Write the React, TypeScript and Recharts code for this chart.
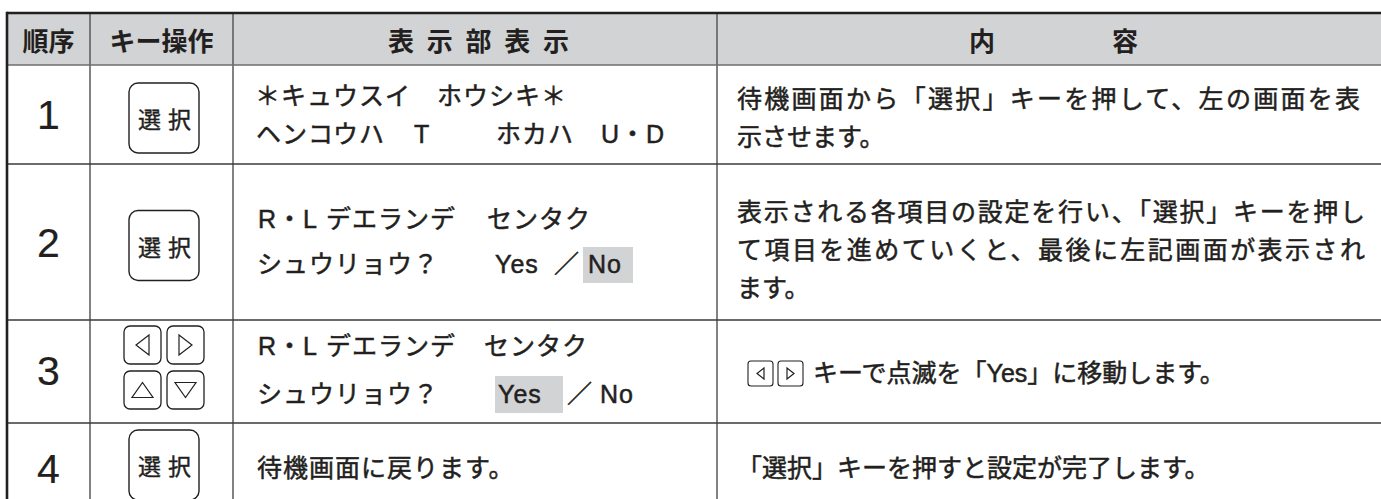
import {
  ComposedChart,
  XAxis,
  YAxis,
  Scatter,
  ReferenceArea,
  ReferenceLine,
} from "recharts";

// table content
const headerLabels = ["順序", "キー操作", "表示部表示", "内容"];
const stepNumbers = ["1", "2", "3", "4"];
const keyKinds = ["select", "select", "arrows", "select"];
const selectKeyLabel = "選 択";
const arrowGlyphs = ["left", "right", "up", "down"];

const displayLines: string[][][] = [
  [["＊キュウスイ　ホウシキ＊"], ["ヘンコウハ", "T", "ホカハ", "U・D"]],
  [["R・L", "デエランデ", "センタク"], ["シュウリョウ？", "Yes", "／", "No"]],
  [["R・L", "デエランデ", "センタク"], ["シュウリョウ？", "Yes", "／", "No"]],
  [["待機画面に戻ります。"]],
];

const descriptionLines: string[][] = [
  ["待機画面から「選択」キーを押して、左の画面を表", "示させます。"],
  [
    "表示される各項目の設定を行い、「選択」キーを押し",
    "て項目を進めていくと、最後に左記画面が表示され",
    "ます。",
  ],
  ["キーで点滅を「Yes」に移動します。"],
  ["「選択」キーを押すと設定が完了します。"],
];

// which choice is blinking on the display, per step
const blinkingChoice = ["", "No", "Yes", ""];

// layout
const W = 1381;
const H = 499;
const COL = [7, 90, 233, 717, 1381];
const ROW = [13, 65, 164, 320, 423, 499];
const INK = "#231f20";
const GRAY = "#d1d3d4";
const FONT = "'Liberation Sans', 'Noto Sans CJK JP', sans-serif";
const CJK = "'Noto Sans CJK JP', sans-serif";

const headerPos = [
  { x: 48.5, anchor: "middle" },
  { x: 161.5, anchor: "middle" },
  { x: 388, anchor: "start", length: 181 },
  { x: 969, anchor: "start", length: 169 },
];
const stepY = [115, 243, 371, 469];
const keyY = [118, 245.5, 367.5, 465];
const displayX = [
  [[255], [256, 414, 496, 601]],
  [[258, 326, 487], [257, 495, 554, 588]],
  [[258, 326, 484], [257, 498, 567, 600]],
  [[257]],
];
const displayY = [[96, 134], [219, 264], [346, 394], [468]];
const descX = [737, 737, 813, 737];
const descY = [[99, 137], [212, 250, 288], [373], [468]];
const descLength: (number | null)[][] = [[623, null], [628, 628, null], [null], [null]];
const blinkBox: Record<string, number[]> = {
  No: [583, 633, 247, 283],
  Yes: [495, 563, 376, 413],
};

type Cell = {
  x: number;
  y: number;
  text: string;
  size: number;
  weight: number;
  anchor: string;
  family: string;
  thicken: number;
  length?: number | null;
  spacing?: number;
};

const cells: Cell[] = [];
headerLabels.forEach((t, i) =>
  cells.push({
    x: headerPos[i].x,
    y: 39,
    text: t,
    size: 26,
    weight: 700,
    anchor: headerPos[i].anchor,
    family: CJK,
    thicken: 0,
    length: headerPos[i].length,
  })
);
stepNumbers.forEach((t, i) =>
  cells.push({ x: 48.5, y: stepY[i], text: t, size: 41, weight: 400, anchor: "middle", family: FONT, thicken: 0.2 })
);
displayLines.forEach((lines, r) =>
  lines.forEach((pieces, l) =>
    pieces.forEach((t, p) =>
      cells.push({
        x: displayX[r][l][p],
        y: displayY[r][l],
        text: t,
        size: 25,
        weight: 400,
        anchor: "start",
        family: FONT,
        thicken: 0.5,
        spacing: 1,
      })
    )
  )
);
descriptionLines.forEach((lines, r) =>
  lines.forEach((t, l) =>
    cells.push({
      x: descX[r],
      y: descY[r][l],
      text: t,
      size: 25,
      weight: 400,
      anchor: "start",
      family: FONT,
      thicken: 0.5,
      length: descLength[r][l],
    })
  )
);

const keys = keyKinds.map((kind, i) => ({ x: 164, y: keyY[i], kind }));
const inlineKeys = [{ x: 775.5, y: 373.5, kind: "inline" }];

const tri = (dir: string, cx: number, cy: number, w: number, h: number) => {
  let pts = "";
  if (dir === "left") pts = `${cx + w / 2},${cy - h / 2} ${cx + w / 2},${cy + h / 2} ${cx - w / 2},${cy}`;
  if (dir === "right") pts = `${cx - w / 2},${cy - h / 2} ${cx - w / 2},${cy + h / 2} ${cx + w / 2},${cy}`;
  if (dir === "up") pts = `${cx - w / 2},${cy + h / 2} ${cx + w / 2},${cy + h / 2} ${cx},${cy - h / 2}`;
  if (dir === "down") pts = `${cx - w / 2},${cy - h / 2} ${cx + w / 2},${cy - h / 2} ${cx},${cy + h / 2}`;
  return <polygon points={pts} fill="none" stroke={INK} strokeWidth={1.2} strokeLinejoin="miter" />;
};

const TextMark = (props: any) => {
  const { cx, cy, payload } = props;
  return (
    <text
      x={cx}
      y={cy}
      fontSize={payload.size}
      fontWeight={payload.weight}
      textAnchor={payload.anchor}
      dominantBaseline="central"
      fill={INK}
      stroke={payload.thicken ? INK : undefined}
      strokeWidth={payload.thicken || undefined}
      fontFamily={payload.family}
      letterSpacing={payload.spacing}
      textLength={payload.length || undefined}
      lengthAdjust={payload.length ? "spacing" : undefined}
    >
      {payload.text}
    </text>
  );
};

const KeyMark = (props: any) => {
  const { cx, cy, payload } = props;
  if (payload.kind === "select") {
    return (
      <g>
        <rect x={cx - 35} y={cy - 35} width={70} height={70} rx={9} fill="#fff" stroke={INK} strokeWidth={1.4} />
        <text
          x={cx + 1}
          y={cy}
          fontSize={23}
          textAnchor="middle"
          dominantBaseline="central"
          fill={INK}
          stroke={INK}
          strokeWidth={0.4}
          fontFamily={CJK}
          fontWeight={400}
          letterSpacing={1}
        >
          {selectKeyLabel}
        </text>
      </g>
    );
  }
  if (payload.kind === "arrows") {
    // 2x2 block of small keys
    const offs = [
      [-21.5, -22.5],
      [21.5, -22.5],
      [-21.5, 22.5],
      [21.5, 22.5],
    ];
    return (
      <g>
        {arrowGlyphs.map((d, i) => {
          const x = cx + offs[i][0];
          const y = cy + offs[i][1];
          const horiz = d === "left" || d === "right";
          return (
            <g key={d}>
              <rect x={x - 18.5} y={y - 19} width={37} height={38} rx={6} fill="#fff" stroke={INK} strokeWidth={1.3} />
              {horiz ? tri(d, x, y, 13, 20) : tri(d, x, y, 21, 15)}
            </g>
          );
        })}
      </g>
    );
  }
  // inline ◁▷ icons in the description text
  return (
    <g>
      {["left", "right"].map((d, i) => {
        const x = cx + (i === 0 ? -15 : 15);
        return (
          <g key={d}>
            <rect x={x - 12.5} y={cy - 12.5} width={25} height={25} rx={3} fill="#fff" stroke={INK} strokeWidth={1.1} />
            {tri(d, x, cy, 7, 11)}
          </g>
        );
      })}
    </g>
  );
};

const App = () => {
  return (
    <div style={{ position: "fixed", left: 0, top: 0, background: "#fff" }}>
      <ComposedChart width={W} height={H} margin={{ top: 0, right: 0, bottom: 0, left: 0 }}>
        <XAxis type="number" dataKey="x" domain={[0, W]} allowDataOverflow hide />
        <YAxis type="number" dataKey="y" domain={[0, H]} allowDataOverflow reversed hide />

        <ReferenceArea x1={COL[0]} x2={COL[4]} y1={ROW[0]} y2={ROW[1]} fill={GRAY} fillOpacity={1} stroke="none" />
        {blinkingChoice.map((c, i) =>
          c ? (
            <ReferenceArea
              key={`blink-${i}`}
              x1={blinkBox[c][0]}
              x2={blinkBox[c][1]}
              y1={blinkBox[c][2]}
              y2={blinkBox[c][3]}
              fill={GRAY}
              fillOpacity={1}
              stroke="none"
            />
          ) : null
        )}

        {COL.slice(1, 4).map((x) => (
          <ReferenceLine
            key={`col-${x}`}
            segment={[
              { x, y: ROW[0] },
              { x, y: H },
            ]}
            stroke="#58595b"
            strokeWidth={1.5}
          />
        ))}
        <ReferenceLine
          segment={[
            { x: COL[0], y: ROW[1] },
            { x: W, y: ROW[1] },
          ]}
          stroke="#6d6e71"
          strokeWidth={1.5}
        />
        {ROW.slice(2, 5).map((y) => (
          <ReferenceLine
            key={`row-${y}`}
            segment={[
              { x: COL[0], y },
              { x: W, y },
            ]}
            stroke="#3a3a3c"
            strokeWidth={1.6}
          />
        ))}
        <ReferenceLine
          segment={[
            { x: COL[0], y: ROW[0] },
            { x: W, y: ROW[0] },
          ]}
          stroke={INK}
          strokeWidth={2.6}
        />
        <ReferenceLine
          segment={[
            { x: COL[0], y: ROW[0] - 1.3 },
            { x: COL[0], y: H },
          ]}
          stroke={INK}
          strokeWidth={2.6}
        />

        <Scatter data={keys} shape={KeyMark} isAnimationActive={false} />
        <Scatter data={inlineKeys} shape={KeyMark} isAnimationActive={false} />
        <Scatter data={cells} shape={TextMark} isAnimationActive={false} />
      </ComposedChart>
    </div>
  );
};

export default App;
